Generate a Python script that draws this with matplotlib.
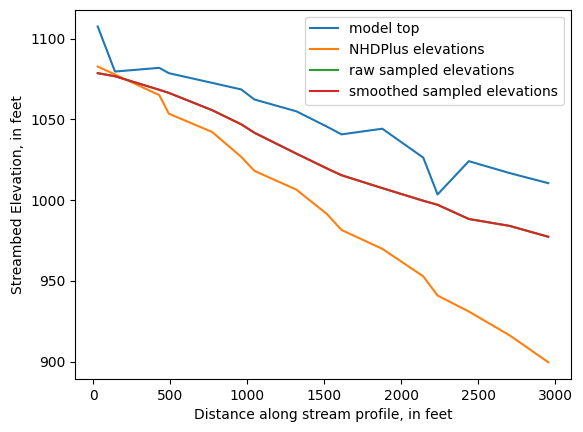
import numpy as np
import matplotlib
matplotlib.use("Agg")
import matplotlib.pyplot as plt

# distance along the profile (ft)
distance = [29, 141, 429, 491, 772, 962, 1047, 1319, 1518, 1613,
            1878, 2144, 2237, 2440, 2706, 2956]

# elevations (ft)
model_top = [1107.5, 1079.6, 1081.9, 1078.6, 1072.6, 1068.5, 1062.3, 1055.0,
             1045.5, 1040.7, 1044.2, 1026.3, 1003.5, 1024.1, 1016.7, 1010.5]
nhdplus = [1082.7, 1077.8, 1065.0, 1053.5, 1042.2, 1026.7, 1018.1, 1006.5,
           991.4, 981.5, 969.8, 952.8, 940.9, 931.0, 916.2, 899.6]
raw_sampled = [1078.6, 1076.7, 1068.3, 1066.4, 1055.7, 1046.9, 1041.7, 1028.8,
               1019.6, 1015.4, 1007.4, 999.6, 997.1, 988.3, 984.0, 977.3]
smoothed_sampled = [1078.6, 1076.7, 1068.3, 1066.4, 1055.7, 1046.9, 1041.7, 1028.8,
                    1019.6, 1015.4, 1007.4, 999.6, 997.1, 988.3, 984.0, 977.3]

fig = plt.figure(figsize=(5.83, 4.32), dpi=100)
ax = fig.add_axes([0.129, 0.1227, 0.850, 0.8548])

ax.plot(distance, model_top, label="model top")
ax.plot(distance, nhdplus, label="NHDPlus elevations")
ax.plot(distance, raw_sampled, label="raw sampled elevations")
ax.plot(distance, smoothed_sampled, label="smoothed sampled elevations")

ax.set_xlabel("Distance along stream profile, in feet")
ax.set_ylabel("Streambed Elevation, in feet")
ax.legend(loc="upper right")

fig.savefig("out.png", dpi=100)
